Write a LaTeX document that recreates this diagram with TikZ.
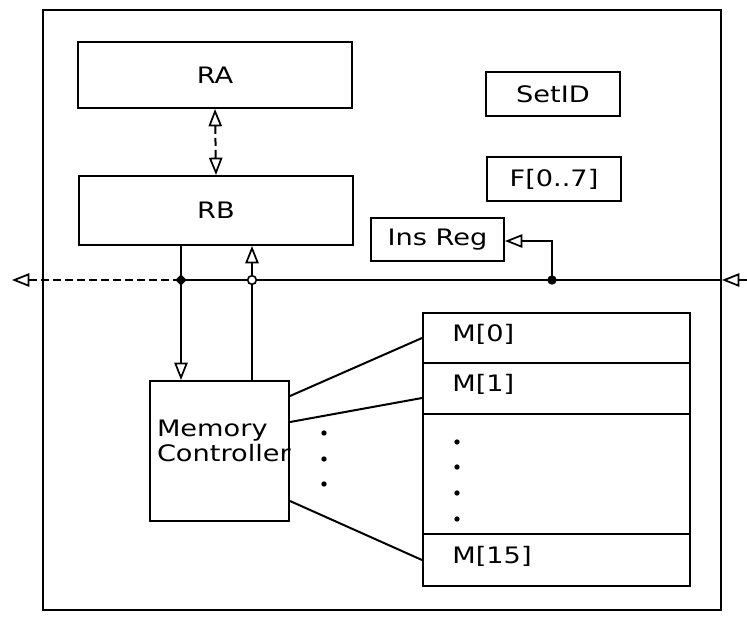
\documentclass[tikz,border=0pt]{standalone}
\usepackage{fontspec}
\newfontfamily\plotfont[FakeStretch=1.2]{DejaVu Sans}
\usetikzlibrary{arrows.meta,calc,positioning,shapes.geometric}

\begin{document}
\begin{tikzpicture}
[
	              x = 0.75pt,
	              y = -0.75pt,
	     line width = 1.5pt,
	             >= {Triangle[open,length=13pt,width=10pt,line width=1.3pt]},
	     box/.style = { draw, rectangle, inner sep=0pt, font=\plotfont\fontsize{17}{19}\selectfont },
	     row/.style = { box, minimum width=200.25pt },
	   label/.style = { draw=none, fill=none, inner sep=0pt, font=\plotfont\fontsize{17}{19}\selectfont },
	 dashline/.style = { dash pattern=on 6pt off 3pt },
	     dot/.style = { circle, fill=black, inner sep=0pt, minimum size=7pt },
	 opendot/.style = { circle, draw, fill=white, line width=1.2pt, inner sep=0pt, minimum size=6.5pt },
	  diadot/.style = { diamond, fill=black, inner sep=0pt, minimum size=9pt }
]
	\useasboundingbox (0,0) rectangle (747,622);
	\draw [line width=1.1pt] (43,10) rectangle (721,610);

	% registers
	\node (ra)     at (215,75)    [box, minimum width=205.5pt, minimum height=49.5pt]  {RA};
	\node (rb)     at (216,210.5) [box, minimum width=205.5pt, minimum height=51.75pt] {RB};
	\node (setid)  at (553,94)    [box, minimum width=100.5pt, minimum height=33pt]    {SetID};
	\node (flags)  at (554,179)   [box, minimum width=100.5pt, minimum height=33pt]    {F[0..7]};
	\node (insreg) at (437.5,239.5) [box, minimum width=99.75pt, minimum height=32.25pt] {Ins Reg};

	% memory
	\node (mc)     at (219.5,451) [box, minimum width=104.25pt, minimum height=105pt] {};
	\node [label, anchor=north west, align=left] at (156,419) {Memory\\Controller};
	\node (m0)     at (556.5,338)   [row, minimum height=37.5pt]  {};
	\node (m1)     at (556.5,388.5) [row, minimum height=38.25pt] {};
	\node (mdots)  at (556.5,474)   [row, minimum height=90pt]    {};
	\node (m15)    at (556.5,560)   [row, minimum height=39pt]    {};
	\node [label, right=22pt of m0.west, yshift=3pt]  {M[0]};
	\node [label, right=22pt of m1.west, yshift=3pt]  {M[1]};
	\node [label, right=22pt of m15.west, yshift=3pt] {M[15]};

	% bus
	\coordinate (jl)   at (181,280);
	\coordinate (jr)   at (252,280);
	\coordinate (ji)   at (552,280);
	\coordinate (busL) at (12,280);
	\coordinate (busR) at (747,280);
	\coordinate (busT) at (722,280);

	\draw [->, dashline] (jl) -- (busL);
	\draw (busT) -- (jl);
	\draw [->] (busR) -- (busT);

	\draw [<->, dashline] (ra.south) -- (rb.north);
	\draw [->] (rb.south -| jl) -- (mc.north -| jl);
	\draw [->] (mc.north -| jr) -- (rb.south -| jr);
	\draw [->] (ji) |- ($(insreg.east)+(0,1.5)$);

	\node [diadot]  at (jl) {};
	\node [opendot] at (jr) {};
	\node [dot]     at (ji) {};

	\draw ($(mc.north east)+(0,16)$) -- (m0.west);
	\draw ($(mc.north east)+(0,42)$) -- ($(m1.west)+(0,9.5)$);
	\draw ($(mc.north east)+(0,121)$) -- (m15.west);

	\foreach \y in {433,459,484}
		\fill (324,\y) circle (2pt);
	\foreach \y in {442,467,493,519}
		\fill (457,\y) circle (2pt);

\end{tikzpicture}
\end{document}
